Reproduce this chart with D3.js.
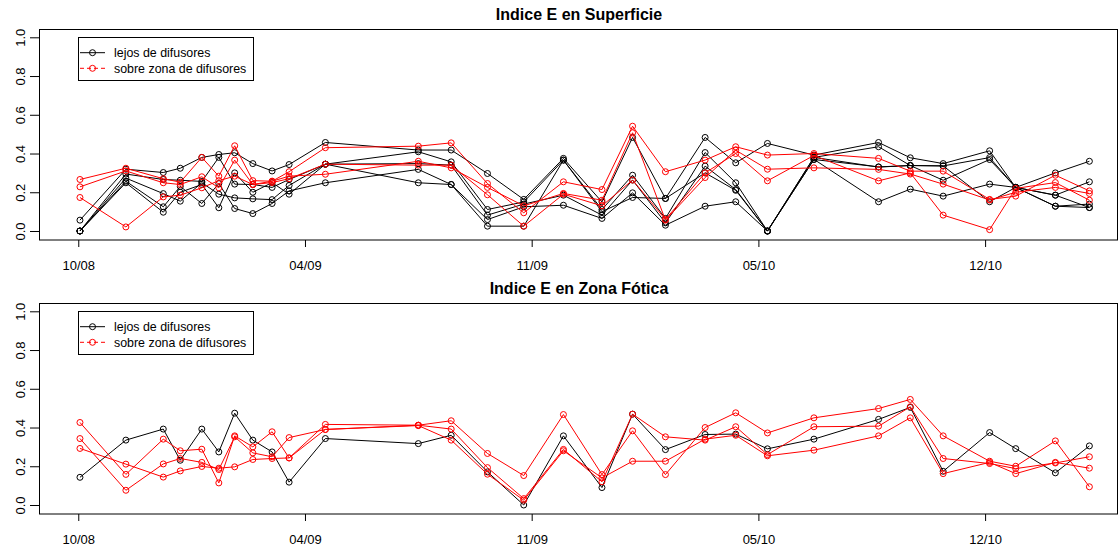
<!DOCTYPE html>
<html><head><meta charset="utf-8">
<script src="https://cdn.jsdelivr.net/npm/d3@7"></script>
<style>body{margin:0;background:#fff} svg{display:block;font-family:"Liberation Sans",Arial,sans-serif}</style>
</head><body><svg id="c" width="1119" height="550"></svg>
<script>
// days since first tick (10/08)
const dias = [1.5, 42, 75, 90, 109, 124, 138, 154, 171, 186, 218, 300, 329, 361, 393, 428, 462, 489, 518, 553, 580, 608, 649, 706, 734, 763, 804, 827, 862, 892];
const tickDias = [0, 200, 400, 600, 800];
const tickLabels = ["10/08", "04/09", "11/09", "05/10", "12/10"];
const yTicks = [0, 0.2, 0.4, 0.6, 0.8, 1.0];
const legendLabels = ["lejos de difusores", "sobre zona de difusores"];
const titles = ["Indice E en Superficie", "Indice E en Zona Fótica"];

// Superficie - lejos de difusores
const supLejos1 = [0.056,0.319,0.302,0.324,0.38,0.395,0.404,0.348,0.31,0.343,0.457,0.418,0.418,0.297,0.163,0.375,0.15,0.483,0.168,0.483,0.352,0.452,0.392,0.457,0.378,0.348,0.414,0.225,0.3,0.36];
const supLejos2 = [0,0.294,0.266,0.262,0.256,0.38,0.242,0.24,0.225,0.266,0.345,0.409,0.357,0.111,0.15,0.366,0.111,0.288,0.065,0.405,0.249,0,0.38,0.435,0.338,0.336,0.379,0.225,0.185,0.254];
const supLejos3 = [0,0.273,0.193,0.154,0.249,0.19,0.171,0.166,0.162,0.235,0.345,0.348,0.34,0.082,0.139,0.185,0.082,0.263,0.042,0.335,0.214,0,0.369,0.331,0.338,0.262,0.369,0.225,0.128,0.139];
const supLejos4 = [0,0.257,0.125,0.23,0.142,0.245,0.116,0.09,0.142,0.207,0.249,0.318,0.24,0.059,0.125,0.133,0.065,0.197,0.03,0.128,0.151,0,0.37,0.151,0.216,0.18,0.242,0.225,0.128,0.121];
const supLejos5 = [0,0.249,0.097,0.2,0.24,0.12,0.3,0.2,0.25,0.19,0.345,0.249,0.24,0.025,0.025,0.366,0.1,0.173,0.168,0.3,0.21,0,0.38,0.33,0.338,0.336,0.151,0.225,0.185,0.121];
// Superficie - sobre zona de difusores
const supSobre1 = [0.266,0.324,0.27,0.252,0.38,0.283,0.44,0.26,0.257,0.306,0.43,0.438,0.455,0.245,0.094,0.254,0.214,0.541,0.306,0.366,0.435,0.392,0.4,0.375,0.309,0.309,0.163,0.18,0.288,0.207];
const supSobre2 = [0.228,0.31,0.249,0.24,0.28,0.223,0.366,0.24,0.257,0.283,0.293,0.36,0.326,0.225,0.13,0.194,0.159,0.507,0.056,0.276,0.417,0.319,0.326,0.318,0.294,0.242,0.16,0.2,0.225,0.194];
const supSobre3 = [0.173,0.021,0.176,0.185,0.223,0.26,0.283,0.24,0.25,0.27,0.345,0.34,0.34,0.187,0.025,0.19,0.13,0.263,0.06,0.3,0.4,0.259,0.39,0.259,0.3,0.082,0.007,0.22,0.25,0.159];
// Zona Fótica - lejos de difusores
const fotLejos1 = [0.143,0.335,0.392,0.231,0.392,0.274,0.474,0.335,0.274,0.118,0.343,0.317,0.36,0.171,0.0,0.357,0.09,0.469,0.286,0.364,0.366,0.29,0.34,0.442,0.504,0.174,0.374,0.291,0.166,0.305];
// Zona Fótica - sobre zona de difusores
const fotSobre1 = [0.426,0.158,0.34,0.28,0.288,0.114,0.357,0.3,0.378,0.243,0.416,0.412,0.435,0.266,0.152,0.467,0.157,0.383,0.157,0.4,0.476,0.372,0.45,0.498,0.545,0.357,0.226,0.2,0.331,0.094];
const fotSobre2 = [0.343,0.076,0.212,0.24,0.22,0.183,0.352,0.269,0.249,0.348,0.39,0.412,0.392,0.193,0.033,0.287,0.12,0.469,0.352,0.335,0.404,0.26,0.404,0.407,0.507,0.24,0.214,0.188,0.217,0.249];
const fotSobre3 = [0.292,0.211,0.144,0.176,0.199,0.19,0.197,0.235,0.24,0.243,0.39,0.41,0.335,0.159,0.025,0.28,0.14,0.226,0.226,0.34,0.36,0.254,0.283,0.357,0.45,0.162,0.22,0.162,0.22,0.19];

const svg = d3.select("#c");
const x = d3.scaleLinear().domain([-34.2, 916.8]).range([39.5, 1117.5]);

function panel(offY, title, blacks, reds) {
  const g = svg.append("g").attr("transform", `translate(0,${offY})`);
  const y = d3.scaleLinear().domain([0, 1]).range([231, 37.3]);

  g.append("text").attr("x", 579).attr("y", 19.5).attr("text-anchor", "middle")
    .attr("font-size", 16).attr("font-weight", "bold").attr("fill", "#000").text(title);

  const line = d3.line().x((d, i) => x(dias[i])).y(d => y(d));
  const draw = (arr, col) => {
    arr.forEach(s => {
      g.append("path").datum(s).attr("d", line).attr("fill", "none").attr("stroke", col).attr("stroke-width", 1);
      g.append("g").selectAll("circle").data(s).join("circle")
        .attr("cx", (d, i) => x(dias[i])).attr("cy", d => y(d)).attr("r", 3)
        .attr("fill", "none").attr("stroke", col).attr("stroke-width", 1);
    });
  };
  draw(blacks, "#000");
  draw(reds, "#ff0000");

  g.append("rect").attr("x", 39.5).attr("y", 29.5).attr("width", 1078).attr("height", 210.5)
    .attr("fill", "none").attr("stroke", "#000").attr("stroke-width", 1);

  const xa = g.append("g").attr("transform", "translate(0,240)")
    .call(d3.axisBottom(x).tickValues(tickDias).tickFormat((d, i) => tickLabels[i]).tickSize(7).tickPadding(13.8));
  xa.select(".domain").remove();
  xa.selectAll("text").attr("font-size", 13).attr("font-family", null).attr("fill", "#000");
  xa.selectAll("line").attr("stroke", "#000");

  const ya = g.append("g").attr("transform", "translate(39.5,0)")
    .call(d3.axisLeft(y).tickValues(yTicks).tickFormat(d3.format(".1f")).tickSize(9.5));
  ya.select(".domain").remove();
  ya.selectAll("line").attr("stroke", "#000");
  ya.selectAll("text").attr("x", null).attr("dy", null).attr("text-anchor", "middle")
    .attr("transform", "translate(-14.5,0) rotate(-90)").attr("font-size", 13).attr("font-family", null).attr("fill", "#000");

  // legend
  const lg = g.append("g");
  lg.append("rect").attr("x", 78.5).attr("y", 37.5).attr("width", 175).attr("height", 43)
    .attr("fill", "#fff").attr("stroke", "#000").attr("stroke-width", 1);
  const cols = ["#000", "#ff0000"], dash = [null, "4,3"], ly = [52.7, 68.3];
  legendLabels.forEach((t, i) => {
    lg.append("line").attr("x1", 80).attr("x2", 105).attr("y1", ly[i]).attr("y2", ly[i])
      .attr("stroke", cols[i]).attr("stroke-dasharray", dash[i]);
    lg.append("circle").attr("cx", 92.5).attr("cy", ly[i]).attr("r", 3).attr("fill", "none").attr("stroke", cols[i]);
    lg.append("text").attr("x", 114).attr("y", ly[i] + 4.3).attr("font-size", 12.4).attr("fill", "#000").text(t);
  });
}

panel(0, titles[0], [supLejos1, supLejos2, supLejos3, supLejos4, supLejos5], [supSobre1, supSobre2, supSobre3]);
panel(274, titles[1], [fotLejos1], [fotSobre1, fotSobre2, fotSobre3]);
</script>
</body></html>
